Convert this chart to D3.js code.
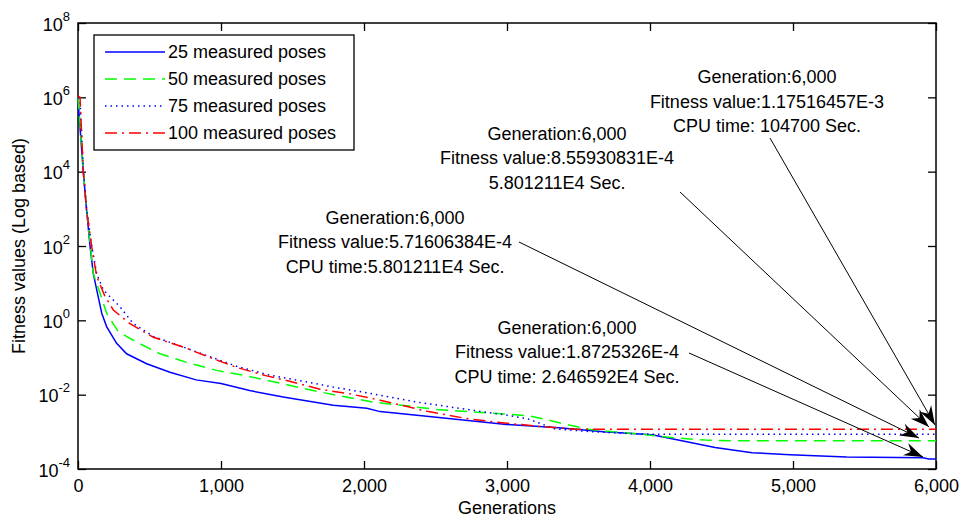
<!DOCTYPE html>
<html>
<head>
<meta charset="utf-8">
<script src="https://cdn.jsdelivr.net/npm/d3@7"></script>
<style>
  body { margin: 0; background: #fff; }
  text { font-family: Arial, "Liberation Sans", sans-serif; fill: #000; }
</style>
</head>
<body>
<svg id="chart" width="961" height="520"></svg>
<script>
// generations / fitness values
const gen25 = [0, 14, 37, 60, 84, 107, 131, 166, 200, 270, 340, 480, 643, 826, 1000, 1200, 1435, 1785, 2020, 2112, 2455, 2997, 3362, 3675, 4014, 4197, 4455, 4714, 4979, 5375, 5909, 5950, 6000];
const fit25 = [8.9e5, 1.6e5, 1e4, 930, 100, 18, 6.6, 1.55, 0.68, 0.24, 0.126, 0.068, 0.040, 0.025, 0.020, 0.0129, 0.0087, 0.0052, 0.0043, 0.0035, 0.0026, 0.00158, 0.00129, 0.001, 0.00083, 0.0006, 0.00038, 0.000275, 0.00024, 0.00021, 0.0002, 1.8725326e-4, 1.8725326e-4];

const gen50 = [0, 14, 37, 60, 84, 107, 154, 200, 282, 410, 573, 760, 970, 1180, 1435, 1670, 1855, 2065, 2300, 2503, 2893, 3154, 3284, 3413, 3571, 3805, 3960, 4175, 4388, 4600, 6000];
const fit50 = [1e6, 2e5, 1e4, 1000, 126, 18, 5.4, 1.55, 0.49, 0.26, 0.126, 0.074, 0.045, 0.032, 0.0195, 0.0123, 0.0089, 0.0063, 0.005, 0.004, 0.0032, 0.0027, 0.0021, 0.00158, 0.00117, 0.00095, 0.00085, 0.00069, 0.0006, 5.71606384e-4, 5.71606384e-4];

const gen75 = [0, 14, 37, 60, 96, 131, 177, 294, 385, 527, 737, 923, 1110, 1319, 1600, 1785, 2050, 2372, 2762, 3000, 3150, 3336, 3571, 3935, 4100, 6000];
const fit75 = [1e6, 8e5, 1.2e4, 1000, 100, 18, 6.6, 2.3, 0.83, 0.37, 0.19, 0.105, 0.058, 0.035, 0.022, 0.016, 0.0107, 0.0063, 0.0038, 0.0028, 0.0022, 0.0012, 0.00102, 0.00087, 8.55930831e-4, 8.55930831e-4];

const gen100 = [0, 14, 37, 60, 96, 131, 189, 247, 364, 527, 737, 923, 1110, 1319, 1459, 1692, 1902, 2112, 2450, 2740, 3000, 3250, 3480, 6000];
const fit100 = [1.1e6, 1e6, 1e4, 930, 95, 15, 4.4, 1.9, 0.81, 0.35, 0.19, 0.1, 0.054, 0.032, 0.024, 0.014, 0.0105, 0.0071, 0.0035, 0.0022, 0.0017, 0.00138, 1.17516457e-3, 1.17516457e-3];

const legendLabels = ["25 measured poses", "50 measured poses", "75 measured poses", "100 measured poses"];
const lineColors = ["#0000ff", "#00ff00", "#0000ff", "#ff0000"];
const lineDashes = [null, "12,7", "1.5,4", "12,5,2,5"];

const xTicks = [0, 1000, 2000, 3000, 4000, 5000, 6000];
const yTicks = [1e-4, 1e-2, 1, 1e2, 1e4, 1e6, 1e8];

// annotations: text lines, text centre (gen, fitness of middle line), arrow from -> to
const noteLines = [
  ["Generation:6,000", "Fitness value:1.17516457E-3", "CPU time: 104700 Sec."],
  ["Generation:6,000", "Fitness value:8.55930831E-4", "5.801211E4 Sec."],
  ["Generation:6,000", "Fitness value:5.71606384E-4", "CPU time:5.801211E4 Sec."],
  ["Generation:6,000", "Fitness value:1.8725326E-4", "CPU time: 2.646592E4 Sec."]
];
const noteGen = [4818, 3350, 2217, 3420];
const noteFit = [7.7e5, 2.33e4, 128, 0.141];
const arrowFromGen = [4839, 4210, 3084, 4273];
const arrowFromFit = [8.05e4, 2.84e3, 128, 0.132];
const arrowToGen = [5993, 5951, 5881, 5909];
const arrowToFit = [1.53e-3, 1.35e-3, 6.8e-4, 2.11e-4];

const m = {t: 23, r: 25, b: 51, l: 78};
const W = 961, H = 520;

const svg = d3.select('#chart');

const x = d3.scaleLinear().domain([0, 6000]).range([m.l, W - m.r]);
const y = d3.scaleLog().domain([1e-4, 1e8]).range([H - m.b, m.t]);

// axes (ticks pointing inwards on all four sides)
svg.append('g')
  .attr('transform', `translate(0,${H - m.b})`)
  .call(d3.axisBottom(x).tickValues(xTicks).tickSize(-8).tickSizeOuter(0).tickPadding(10).tickFormat(d3.format(',')))
  .call(g => g.select('.domain').remove())
  .selectAll('text').style('font-size', '18px').style('font-family', 'Arial, "Liberation Sans", sans-serif');

svg.append('g')
  .attr('transform', `translate(0,${m.t})`)
  .call(d3.axisTop(x).tickValues(xTicks).tickSize(-8).tickSizeOuter(0).tickFormat(''))
  .call(g => g.select('.domain').remove());

let yAxis = svg.append('g')
  .attr('transform', `translate(${m.l},0)`)
  .call(d3.axisLeft(y).tickValues(yTicks).tickSize(-8).tickSizeOuter(0).tickPadding(8).tickFormat(''))
  .call(g => g.select('.domain').remove());

yAxis.selectAll('.tick text')
  .attr('dy', '0.4em')
  .style('font-size', '18px')
  .style('font-family', 'Arial, "Liberation Sans", sans-serif')
  .each(function(d) {
    let t = d3.select(this);
    t.text('10');
    t.append('tspan')
      .attr('dy', -10)
      .style('font-size', '13px')
      .text(Math.round(Math.log10(d)));
  });

svg.append('g')
  .attr('transform', `translate(${W - m.r},0)`)
  .call(d3.axisRight(y).tickValues(yTicks).tickSize(-8).tickSizeOuter(0).tickFormat(''))
  .call(g => g.select('.domain').remove());

svg.selectAll('.tick line').attr('stroke', '#000').attr('stroke-width', 1.3);

// frame
svg.append('rect')
  .attr('x', m.l)
  .attr('y', m.t)
  .attr('width', W - m.r - m.l)
  .attr('height', H - m.b - m.t)
  .attr('fill', 'none')
  .attr('stroke', '#000')
  .attr('stroke-width', 1.5);

// curves
const series = [[gen25, fit25], [gen50, fit50], [gen75, fit75], [gen100, fit100]];

let line = d3.line()
  .x(d => x(d[0]))
  .y(d => y(d[1]));

series.forEach(function(s, i) {
  let pts = s[0].map((g, j) => [g, s[1][j]]);
  svg.append('path')
    .datum(pts)
    .attr('d', line)
    .attr('fill', 'none')
    .attr('stroke', lineColors[i])
    .attr('stroke-width', 1.5)
    .attr('stroke-dasharray', lineDashes[i]);
});

// legend
let lg = svg.append('g');
lg.append('rect')
  .attr('x', 94).attr('y', 35)
  .attr('width', 260).attr('height', 115)
  .attr('fill', '#fff')
  .attr('stroke', '#000')
  .attr('stroke-width', 1.3);

legendLabels.forEach(function(lab, i) {
  let ly = 52 + i * 27;
  lg.append('line')
    .attr('x1', 105).attr('x2', 165)
    .attr('y1', ly).attr('y2', ly)
    .attr('stroke', lineColors[i])
    .attr('stroke-width', 1.5)
    .attr('stroke-dasharray', lineDashes[i]);
  lg.append('text')
    .attr('x', 168).attr('y', ly)
    .attr('dy', '0.35em')
    .style('font-size', '18px')
    .text(lab);
});

// annotations with arrows
function headPoints(x1, y1, x2, y2) {
  let a = Math.atan2(y2 - y1, x2 - x1), L = 19, w = 6.5, n = 13;
  return [[0, 0], [-L, -w], [-n, 0], [-L, w]].map(([u, v]) => [
    x2 + u * Math.cos(a) - v * Math.sin(a),
    y2 + u * Math.sin(a) + v * Math.cos(a)
  ]);
}

noteLines.forEach(function(lines, i) {
  let cx = x(noteGen[i]), cy = y(noteFit[i]);
  lines.forEach(function(txt, k) {
    svg.append('text')
      .attr('x', cx)
      .attr('y', cy + (k - 1) * 24.5)
      .attr('dy', '0.35em')
      .attr('text-anchor', 'middle')
      .style('font-size', '18px')
      .text(txt);
  });

  let x1 = x(arrowFromGen[i]), y1 = y(arrowFromFit[i]);
  let x2 = x(arrowToGen[i]), y2 = y(arrowToFit[i]);
  svg.append('line')
    .attr('x1', x1).attr('y1', y1)
    .attr('x2', x2).attr('y2', y2)
    .attr('stroke', '#000')
    .attr('stroke-width', 1);
  svg.append('polygon')
    .attr('points', headPoints(x1, y1, x2, y2).map(p => p.join(',')).join(' '))
    .attr('fill', '#000');
});

// axis titles
svg.append('text')
  .attr('x', x(3000))
  .attr('y', 514)
  .attr('text-anchor', 'middle')
  .style('font-size', '18px')
  .text('Generations');

svg.append('text')
  .attr('transform', `translate(25,${(m.t + H - m.b) / 2}) rotate(-90)`)
  .attr('text-anchor', 'middle')
  .style('font-size', '18px')
  .text('Fitness values (Log based)');
</script>
</body>
</html>
